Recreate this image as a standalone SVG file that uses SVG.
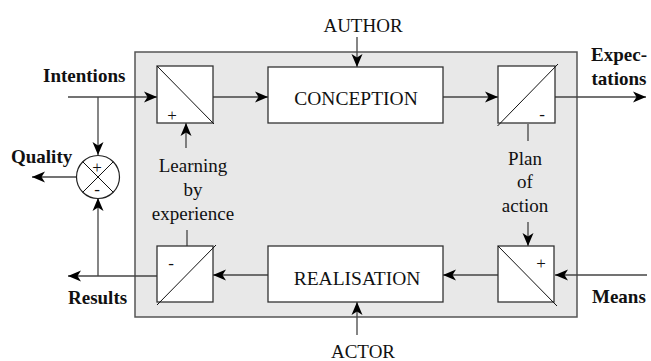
<svg xmlns="http://www.w3.org/2000/svg" width="651" height="361" viewBox="0 0 651 361">
  <defs>
    <marker id="arrow" markerUnits="userSpaceOnUse" markerWidth="14" markerHeight="12" refX="13" refY="6" orient="auto">
      <path d="M0,0.5 L13,6 L0,11.5 L3.5,6 Z" fill="#000"/>
    </marker>
    <style>
      .frame { fill: #e8e8e8; stroke: #555; stroke-width: 1.5; }
      .box { fill: #fff; stroke: #333; stroke-width: 1.3; }
      .diag { stroke: #111; stroke-width: 1; fill: none; }
      .line { stroke: #444; stroke-width: 1.3; fill: none; }
      .arr { marker-end: url(#arrow); }
      text { font-family: "Liberation Serif", "Times New Roman", serif; fill: #111; }
      .t { font-size: 19px; }
      .name { font-size: 19.5px; text-anchor: middle; }
      .bold { font-weight: bold; }
      .mid { text-anchor: middle; }
      .sign { font-size: 17px; text-anchor: middle; }
    </style>
  </defs>

  <!-- enclosing system frame -->
  <rect class="frame" x="135" y="52" width="442" height="265"/>

  <!-- connectors -->
  <g id="connectors">
    <path class="line arr" d="M68,97 H157"/>
    <path class="line arr" d="M98,97 V155"/>
    <path class="line arr" d="M77,177 H32"/>
    <path class="line arr" d="M157,276 H68"/>
    <path class="line arr" d="M98,276 V198"/>
    <path class="line arr" d="M213,97 H268"/>
    <path class="line arr" d="M443,97 H498"/>
    <path class="line arr" d="M555,97 H646"/>
    <path class="line arr" d="M357,37 V67"/>
    <path class="line arr" d="M357,335 V302"/>
    <path class="line arr" d="M498,275 H443"/>
    <path class="line arr" d="M268,275 H213"/>
    <path class="line arr" d="M647,275 H555"/>
    <path class="line arr" d="M186,148 V123"/>
    <path class="line arr" d="M528,222 V246"/>
    <path class="line" d="M528,124 V141"/>
    <path class="line" d="M187,230 V246"/>
  </g>

  <!-- comparator (quality) -->
  <g id="comparator">
    <circle cx="98" cy="177" r="21.5" fill="#fff" stroke="#222" stroke-width="1.2"/>
    <path class="diag" d="M82.8,161.8 L113.2,192.2 M113.2,161.8 L82.8,192.2"/>
    <text class="sign" x="97" y="173">+</text>
    <text class="sign" x="97" y="195">-</text>
  </g>

  <!-- input comparator: intentions vs. learning -->
  <g id="cmp-intentions">
    <rect class="box" x="157" y="66" width="56" height="57"/>
    <path class="diag" d="M157,66 L214,124"/>
    <text class="sign" x="172" y="121">+</text>
  </g>

  <g id="conception">
    <rect class="box" x="268" y="67" width="175" height="56"/>
    <text class="name" x="356" y="105">CONCEPTION</text>
  </g>

  <!-- output comparator: expectations vs. plan -->
  <g id="cmp-expectations">
    <rect class="box" x="498" y="66" width="57" height="57"/>
    <path class="diag" d="M497.5,126 L558,64"/>
    <text class="sign" x="542" y="120">-</text>
  </g>

  <!-- comparator: plan of action vs. means -->
  <g id="cmp-means">
    <rect class="box" x="498" y="246" width="56" height="56"/>
    <path class="diag" d="M498,246 L557,306"/>
    <text class="sign" x="541" y="269">+</text>
  </g>

  <g id="realisation">
    <rect class="box" x="268" y="246" width="175" height="56"/>
    <text class="name" x="357" y="285">REALISATION</text>
  </g>

  <!-- comparator: results vs. learning -->
  <g id="cmp-results">
    <rect class="box" x="157" y="246" width="56" height="56"/>
    <path class="diag" d="M157,305 L216,245"/>
    <text class="sign" x="171" y="269">-</text>
  </g>

  <!-- labels -->
  <g id="labels">
    <text class="t bold" x="43" y="82">Intentions</text>
    <text class="t bold" x="11" y="163">Quality</text>
    <text class="t bold" x="68" y="304">Results</text>
    <text class="t bold" x="592" y="303">Means</text>
    <text class="t bold mid" x="619" y="61">Expec-</text>
    <text class="t bold mid" x="619" y="85">tations</text>
    <text class="t mid" x="363" y="32">AUTHOR</text>
    <text class="t mid" x="363" y="358">ACTOR</text>
    <text class="t mid" x="193" y="172">Learning</text>
    <text class="t mid" x="193" y="196">by</text>
    <text class="t mid" x="193" y="220">experience</text>
    <text class="t mid" x="525" y="165">Plan</text>
    <text class="t mid" x="525" y="188">of</text>
    <text class="t mid" x="525" y="212">action</text>
  </g>
</svg>
